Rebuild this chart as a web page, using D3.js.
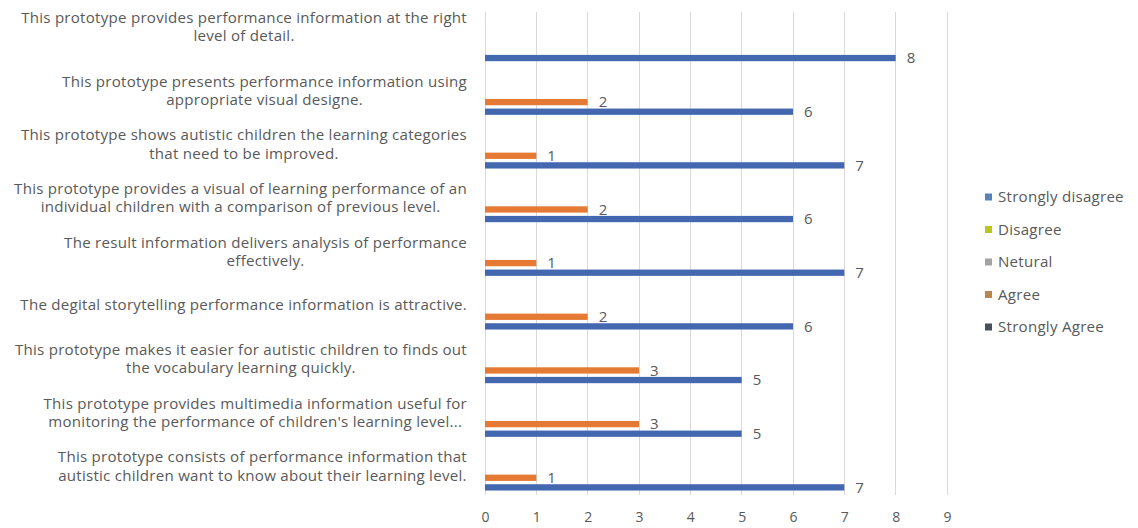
<!DOCTYPE html>
<html>
<head>
<meta charset="utf-8">
<script src="https://cdn.jsdelivr.net/npm/d3@7"></script>
<style>
  html, body { margin: 0; padding: 0; background: #ffffff; }
  svg { display: block; }
  text { font-family: "Open Sans", "Noto Sans", sans-serif; fill: #595959; }
</style>
</head>
<body>
<svg id="chart" width="1138" height="528"></svg>
<script>
// Survey statements (line breaks mark where each label wraps)
const categories = [
  "This prototype provides performance information at the right\nlevel of detail.",
  "This prototype presents performance information using\nappropriate visual designe.",
  "This prototype shows autistic children the learning categories\nthat need to be improved.",
  "This prototype provides a visual of learning performance of an\nindividual children with a comparison of previous level.",
  "The result information delivers analysis of performance\neffectively.",
  "The degital storytelling performance information is attractive.",
  "This prototype makes it easier for autistic children to finds out\nthe vocabulary learning quickly.",
  "This prototype provides multimedia information useful for\nmonitoring the performance of children's learning level...",
  "This prototype consists of performance information that\nautistic children want to know about their learning level."
];

// Response counts per statement
const stronglyDisagree = [0, 0, 0, 0, 0, 0, 0, 0, 0];
const disagree         = [0, 0, 0, 0, 0, 0, 0, 0, 0];
const netural          = [0, 0, 0, 0, 0, 0, 0, 0, 0];
const agree            = [0, 2, 1, 2, 1, 2, 3, 3, 1];
const stronglyAgree    = [8, 6, 7, 6, 7, 6, 5, 5, 7];

// Legend order, top to bottom
const legendNames = ["Strongly disagree", "Disagree", "Netural", "Agree", "Strongly Agree"];
const xTicks = [0, 1, 2, 3, 4, 5, 6, 7, 8, 9];

const series = [
  { name: "Strongly disagree", values: stronglyDisagree, bar: "#5b82b5", key: "#5b82b5" },
  { name: "Disagree",          values: disagree,         bar: "#b8c61e", key: "#b8c61e" },
  { name: "Netural",           values: netural,          bar: "#a3a3a3", key: "#a3a3a3" },
  { name: "Agree",             values: agree,            bar: "#e57a35", key: "#b98650" },
  { name: "Strongly Agree",    values: stronglyAgree,    bar: "#4468b0", key: "#4a4f5a" }
];

const svg = d3.select("#chart");

const plot = { left: 485, right: 947, top: 12, bottom: 495 };

const x = d3.scaleLinear().domain([0, 9]).range([plot.left, plot.right]);

const y0 = d3.scaleBand()
  .domain(d3.range(categories.length))
  .range([plot.top, plot.bottom])
  .paddingInner(0.105)
  .paddingOuter(0.0525);

// Within a statement, the series stack top-to-bottom in legend order
const y1 = d3.scaleBand()
  .domain(series.map(s => s.name))
  .range([0, y0.bandwidth()]);

const barH = 6.3;

// Vertical gridlines
svg.append("g")
  .selectAll("line")
  .data(xTicks)
  .join("line")
  .attr("x1", d => x(d)).attr("x2", d => x(d))
  .attr("y1", plot.top).attr("y2", plot.bottom)
  .attr("stroke", "#d9d9d9")
  .attr("stroke-width", 1)
  .attr("shape-rendering", "crispEdges");

// X-axis tick labels
const xAxis = d3.axisBottom(x).tickValues(xTicks).tickSize(0).tickPadding(0).tickFormat(d3.format("d"));
const gx = svg.append("g")
  .attr("transform", `translate(0, ${plot.bottom + 17})`)
  .call(xAxis);
gx.select(".domain").remove();
gx.selectAll("text")
  .style("font-size", "14px")
  .style("fill", "#595959")
  .style("font-family", "'Open Sans', sans-serif");

// Bars
const groups = svg.append("g")
  .selectAll("g")
  .data(categories.map((c, i) => i))
  .join("g")
  .attr("transform", i => `translate(0, ${y0(i)})`);

series.forEach(s => {
  groups.filter(i => s.values[i] > 0)
    .append("rect")
    .attr("x", x(0))
    .attr("y", i => y1(s.name) + (y1.bandwidth() - barH) / 2)
    .attr("width", i => x(s.values[i]) - x(0))
    .attr("height", barH)
    .attr("fill", s.bar);

  groups.filter(i => s.values[i] > 0)
    .append("text")
    .attr("x", i => x(s.values[i]) + 11)
    .attr("y", i => y1(s.name) + y1.bandwidth() / 2)
    .attr("dy", "0.35em")
    .style("font-size", "15px")
    .text(i => s.values[i]);
});

// Category labels: lines centred within a block that is right-aligned to the axis
const labelRight = 467;
const lineH = 18.5;
const labels = svg.append("g");
categories.forEach((c, i) => {
  const lines = c.split("\n");
  const g = labels.append("g");
  const t = g.selectAll("text")
    .data(lines)
    .join("text")
    .style("font-size", "15.1px")
    .style("letter-spacing", "0.25px")
    .attr("text-anchor", "middle")
    .text(d => d);
  let w = 0;
  t.each(function () { w = Math.max(w, this.getComputedTextLength()); });
  const cy = y0(i) + y0.bandwidth() / 2 - (i === 0 ? 12 : 2);
  t.attr("x", labelRight - w / 2)
    .attr("y", (d, k) => cy + (k - (lines.length - 1) / 2) * lineH)
    .attr("dy", "0.35em");
});

// Legend
const legend = svg.append("g").attr("transform", "translate(985, 197)");
const legendItems = legend.selectAll("g")
  .data(legendNames.map(n => series.find(s => s.name === n)))
  .join("g")
  .attr("transform", (d, k) => `translate(0, ${k * 32.5})`);
legendItems.append("rect")
  .attr("x", 0).attr("y", -3.5)
  .attr("width", 7).attr("height", 7)
  .attr("fill", d => d.key);
legendItems.append("text")
  .attr("x", 13).attr("y", 0).attr("dy", "0.35em")
  .style("font-size", "15.1px")
  .style("letter-spacing", "0.25px")
  .text(d => d.name);
</script>
</body>
</html>
